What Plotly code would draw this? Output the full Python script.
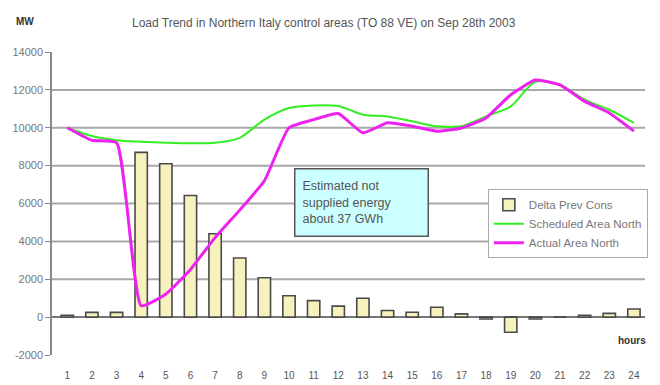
import plotly.graph_objects as go

hours = list(range(1, 25))
delta_prev_cons = [100, 250, 250, 8700, 8100, 6420, 4400, 3120, 2080, 1130, 870, 580,
                   1000, 350, 260, 520, 170, -100, -800, -100, 0, 100, 200, 430]
scheduled_north = [10000, 9560, 9340, 9260, 9210, 9180, 9210, 9470, 10430, 11040, 11180, 11150,
                   10690, 10600, 10340, 10080, 10080, 10600, 11130, 12430, 12260, 11480, 10950, 10260]
actual_north = [10000, 9340, 9210, 600, 1220, 2520, 4200, 5650, 7200, 10000, 10430, 10750,
                9730, 10260, 10080, 9820, 9990, 10520, 11740, 12520, 12260, 11390, 10780, 9820]
y_ticks = [-2000, 0, 2000, 4000, 6000, 8000, 10000, 12000, 14000]
grid_levels = [2000, 4000, 6000, 8000, 10000, 12000]

FONT = "Liberation Sans, Arial, sans-serif"

fig = go.Figure()

fig.add_trace(go.Bar(
    x=hours, y=delta_prev_cons, name="Delta Prev Cons", width=0.5,
    marker=dict(color="#f7f2bd", line=dict(color="#4a4a4a", width=1.6)),
))
fig.add_trace(go.Scatter(
    x=hours, y=scheduled_north, name="Scheduled Area North", mode="lines",
    line=dict(color="#33ee22", width=2, shape="spline", smoothing=0.8),
))
fig.add_trace(go.Scatter(
    x=hours, y=actual_north, name="Actual Area North", mode="lines",
    line=dict(color="#ee22ee", width=3, shape="spline", smoothing=0.45),
))

# horizontal gridlines drawn beneath the data
for g in grid_levels:
    fig.add_shape(type="line", xref="paper", x0=0, x1=1, yref="y", y0=g, y1=g,
                  line=dict(color="#a8a8a8", width=2), layer="below")

fig.update_layout(
    width=660, height=385,
    margin=dict(l=52, r=15, t=52, b=30, autoexpand=False),
    paper_bgcolor="white", plot_bgcolor="white",
    font=dict(family=FONT, color="#555", size=10),
    showlegend=True,
    bargap=0.5,
    legend=dict(
        x=0.735, y=0.547, xanchor="left", yanchor="top",
        bgcolor="white", bordercolor="#aaa", borderwidth=1,
        font=dict(size=11.5, color="#777"), tracegroupgap=0, itemwidth=30,
    ),
    xaxis=dict(
        range=[0.38, 24.45], tickmode="array", tickvals=hours,
        ticktext=[str(h) for h in hours], showgrid=False, showline=False,
        zeroline=False, ticks="", tickfont=dict(size=10, color="#555"),
        ticklabelstandoff=13,
    ),
    yaxis=dict(
        range=[-2000, 14000], tickmode="array", tickvals=y_ticks,
        ticktext=[str(v) for v in y_ticks], showgrid=False,
        showline=True, linecolor="#888", linewidth=1.5,
        ticks="outside", ticklen=5, tickcolor="#888",
        zeroline=True, zerolinecolor="#777", zerolinewidth=1.5,
        tickfont=dict(size=11, color="#777"),
    ),
    annotations=[
        dict(text="Load Trend in Northern Italy control areas (TO 88 VE) on Sep 28th 2003",
             xref="paper", yref="paper", x=0.459, y=1.127, xanchor="center",
             showarrow=False, font=dict(size=12, color="#555")),
        dict(text="<b>MW</b>", xref="paper", yref="paper", x=-0.045, y=1.127,
             xanchor="center", showarrow=False, font=dict(size=10, color="#333")),
        dict(text="<b>hours</b>", xref="paper", yref="y", x=1.005, y=-1250,
             xanchor="right", showarrow=False, font=dict(size=10, color="#333")),
        dict(text="Estimated not<br>supplied energy<br>about 37 GWh",
             xref="paper", yref="paper", x=0.408, y=0.617, xanchor="left", yanchor="top",
             showarrow=False, align="left", width=118, height=52,
             bgcolor="#ccffff", bordercolor="#555", borderwidth=1.5, borderpad=7,
             font=dict(size=12.5, color="#555")),
    ],
)

fig.write_html("out.html")
